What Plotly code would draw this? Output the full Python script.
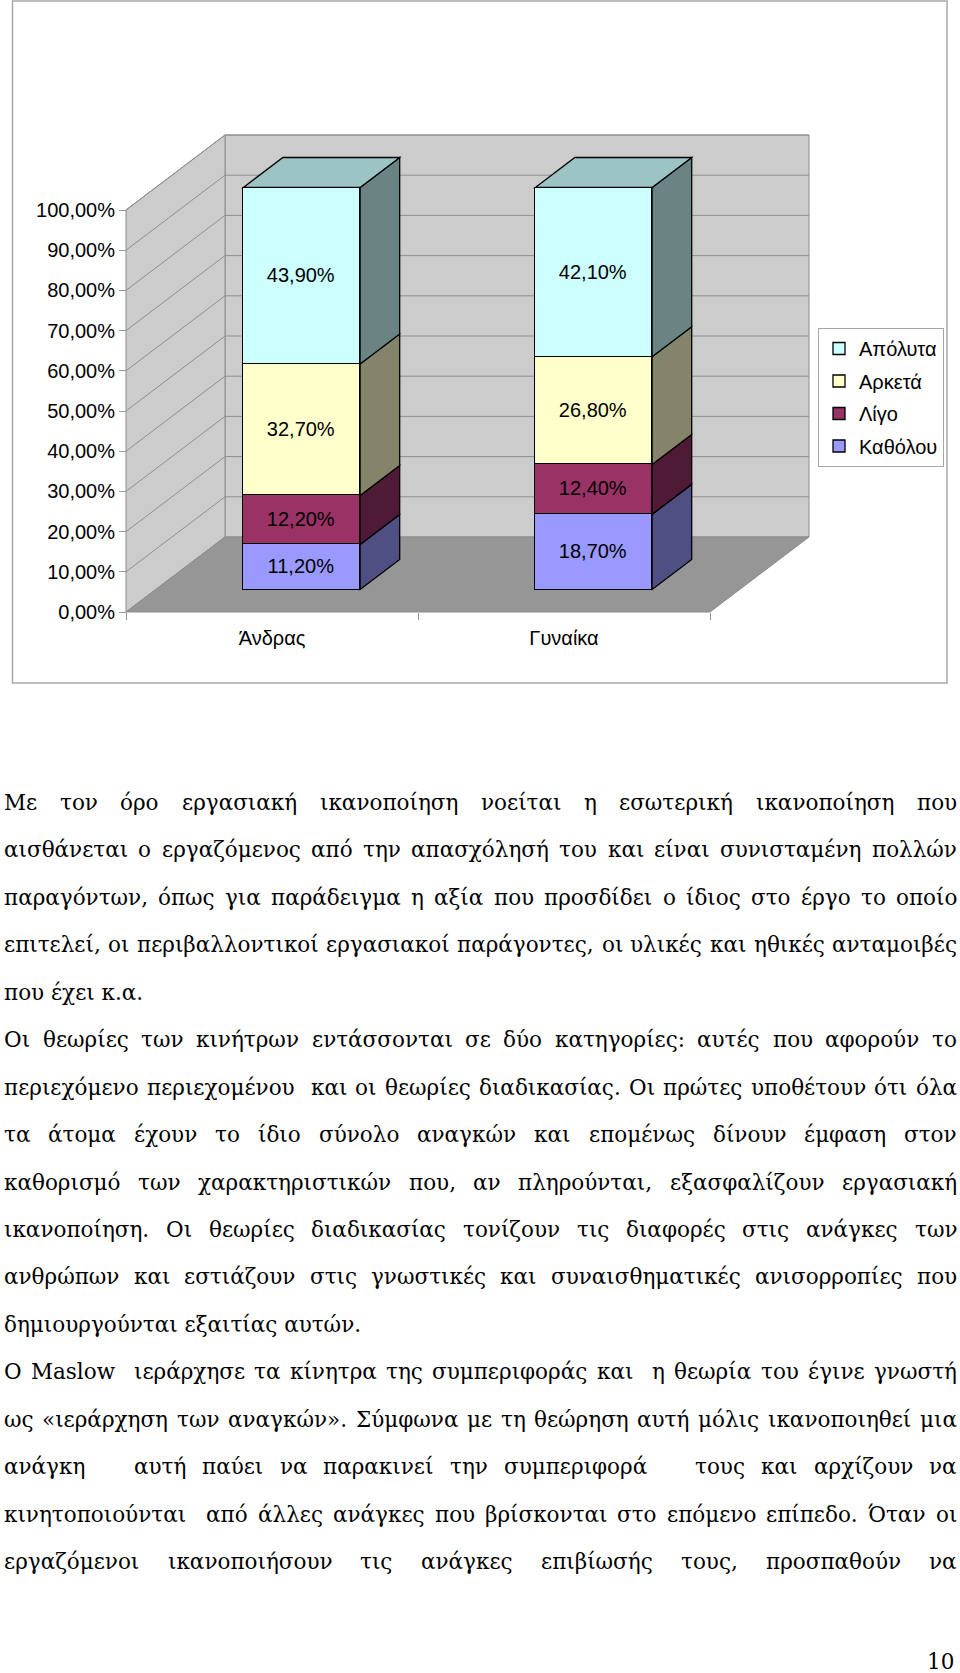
import glob
import os
import struct
import plotly.graph_objects as go

# ---------------- data ----------------
categories = ["Άνδρας", "Γυναίκα"]
series_names = ["Καθόλου", "Λίγο", "Αρκετά", "Απόλυτα"]
katholou = [11.2, 18.7]
ligo = [12.2, 12.4]
arketa = [32.7, 26.8]
apoluta = [43.9, 42.1]
y_tick_values = [0, 10, 20, 30, 40, 50, 60, 70, 80, 90, 100]
y_tick_labels = ["0,00%", "10,00%", "20,00%", "30,00%", "40,00%", "50,00%",
                 "60,00%", "70,00%", "80,00%", "90,00%", "100,00%"]

body_lines = [
    ("Με τον όρο εργασιακή ικανοποίηση νοείται η εσωτερική ικανοποίηση που", True),
    ("αισθάνεται ο εργαζόμενος από την απασχόλησή του και είναι συνισταμένη πολλών", True),
    ("παραγόντων, όπως για παράδειγμα η αξία που προσδίδει ο ίδιος στο έργο το οποίο", True),
    ("επιτελεί, οι περιβαλλοντικοί εργασιακοί παράγοντες, οι υλικές και ηθικές ανταμοιβές", True),
    ("που έχει κ.α.", False),
    ("Οι θεωρίες των κινήτρων εντάσσονται σε δύο κατηγορίες: αυτές που αφορούν το", True),
    ("περιεχόμενο περιεχομένου  και οι θεωρίες διαδικασίας. Οι πρώτες υποθέτουν ότι όλα", True),
    ("τα άτομα έχουν το ίδιο σύνολο αναγκών και επομένως δίνουν έμφαση στον", True),
    ("καθορισμό των χαρακτηριστικών που, αν πληρούνται, εξασφαλίζουν εργασιακή", True),
    ("ικανοποίηση. Οι θεωρίες διαδικασίας τονίζουν τις διαφορές στις ανάγκες των", True),
    ("ανθρώπων και εστιάζουν στις γνωστικές και συναισθηματικές ανισορροπίες που", True),
    ("δημιουργούνται εξαιτίας αυτών.", False),
    ("Ο Maslow  ιεράρχησε τα κίνητρα της συμπεριφοράς και  η θεωρία του έγινε γνωστή", True),
    ("ως «ιεράρχηση των αναγκών». Σύμφωνα με τη θεώρηση αυτή μόλις ικανοποιηθεί μια", True),
    ("ανάγκη   αυτή παύει να παρακινεί την συμπεριφορά   τους και αρχίζουν να", True),
    ("κινητοποιούνται  από άλλες ανάγκες που βρίσκονται στο επόμενο επίπεδο. Όταν οι", True),
    ("εργαζόμενοι ικανοποιήσουν τις ανάγκες επιβίωσής τους, προσπαθούν να", True),
]
page_number = "10"

# ---------------- style / layout ----------------
front_colors = ["#9999FF", "#993366", "#FFFFCC", "#CCFFFF"]
legend_ranks = [4, 3, 2, 1]
SANS = "Liberation Sans, Arial, sans-serif"
SERIF = "DejaVu Serif, Liberation Serif, serif"
SERIF_FILE = "DejaVuSerif.ttf"
W_FIG, H_FIG = 960, 1673
PLOT_BOTTOM_PX = 690
X0_PX, CAT_PX = 272.0, 292.0
Y0_PX, PCT_PX = 612.0, 4.02
DEPTH_DX_PX, DEPTH_DY_PX = 99.0, 75.0
BAR_W = 0.4
BAR_D0, BAR_D1 = 0.3, 0.7
CHART_FS = 20
BODY_FS = 21.5
BODY_LEFT, BODY_RIGHT = 3.0, 956.0
BODY_BASE0, BODY_PITCH = 809.0, 47.44


def shade(hex_color, f):
    h = hex_color.lstrip("#")
    r, g, b = (int(h[i:i + 2], 16) for i in (0, 2, 4))
    return "#%02X%02X%02X" % (int(r * f), int(g * f), int(b * f))


x_range = [(0 - X0_PX) / CAT_PX, (W_FIG - X0_PX) / CAT_PX]
y_range = [(Y0_PX - PLOT_BOTTOM_PX) / PCT_PX, Y0_PX / PCT_PX]
DX = DEPTH_DX_PX / CAT_PX
DY = DEPTH_DY_PX / PCT_PX
y_domain = [1 - PLOT_BOTTOM_PX / H_FIG, 1]


def P(x, y, d):
    return (x + d * DX, y + d * DY)


def pts_path(pts, closed=True):
    s = "M " + " L ".join("%.5f,%.5f" % p for p in pts)
    return s + " Z" if closed else s


shapes = []


def add_poly(pts, fill, line_color, lw=1.0, closed=True):
    d = dict(type="path", path=pts_path(pts, closed), xref="x", yref="y",
             line=dict(color=line_color, width=lw), layer="below")
    if closed:
        d["fillcolor"] = fill
    shapes.append(d)


xl, xr = -0.5, len(categories) - 0.5
ymax = y_tick_values[-1]
# walls and floor
add_poly([P(xl, 0, 1), P(xr, 0, 1), P(xr, ymax, 1), P(xl, ymax, 1)], "#CCCCCC", "#8C8C8C")
add_poly([P(xl, 0, 0), P(xl, 0, 1), P(xl, ymax, 1), P(xl, ymax, 0)], "#CCCCCC", "#8C8C8C")
add_poly([P(xl, 0, 0), P(xr, 0, 0), P(xr, 0, 1), P(xl, 0, 1)], "#969696", "#8C8C8C")
for v in y_tick_values[1:]:
    add_poly([P(xl, v, 1), P(xr, v, 1)], None, "#8E8E8E", 1.0, closed=False)
    add_poly([P(xl, v, 0), P(xl, v, 1)], None, "#8E8E8E", 1.0, closed=False)

# bar side and top faces (computed from the data)
series_values = [katholou, ligo, arketa, apoluta]
for i in range(len(categories)):
    base = 0.0
    xe = i + BAR_W / 2
    xs = i - BAR_W / 2
    for s, vals in enumerate(series_values):
        y0, y1 = base, base + vals[i]
        add_poly([P(xe, y0, BAR_D0), P(xe, y1, BAR_D0), P(xe, y1, BAR_D1), P(xe, y0, BAR_D1)],
                 shade(front_colors[s], 0.52), "#000000", 1.3)
        base = y1
    add_poly([P(xs, base, BAR_D0), P(xe, base, BAR_D0), P(xe, base, BAR_D1), P(xs, base, BAR_D1)],
             shade(front_colors[-1], 0.77), "#000000", 1.3)

# outer chart border
shapes.append(dict(type="rect", xref="paper", yref="paper",
                   x0=12.5 / W_FIG, x1=947 / W_FIG, y0=1 - 683 / H_FIG, y1=1 - 1 / H_FIG,
                   line=dict(color="#A8A8A8", width=1.5), fillcolor="rgba(0,0,0,0)"))

fig = go.Figure()
for s, vals in enumerate(series_values):
    fig.add_trace(go.Bar(
        x=list(range(len(categories))), y=vals, name=series_names[s],
        width=BAR_W, xaxis="x2", yaxis="y2",
        marker=dict(color=front_colors[s], line=dict(color="#000000", width=1.3)),
        texttemplate="%{y:.2f}%", textposition="inside",
        insidetextanchor="middle", textangle=0, constraintext="none",
        textfont=dict(family=SANS, size=CHART_FS, color="#000000"),
        hoverinfo="skip", legendgroup=series_names[s], legendrank=legend_ranks[s],
    ))


# ---------------- body text (justified, via font metrics) ----------------
def load_widths(fname):
    path = None
    for pat in ["/usr/share/fonts/**/" + fname, "/usr/local/share/fonts/**/" + fname,
                os.path.expanduser("~/.fonts/**/" + fname),
                os.path.expanduser("~/.local/share/fonts/**/" + fname)]:
        r = glob.glob(pat, recursive=True)
        if r:
            path = r[0]
            break
    fallback = (lambda ch: 0.32 if ch == " " else 0.6)
    if path is None:
        return fallback
    data = open(path, "rb").read()
    num = struct.unpack(">H", data[4:6])[0]
    tables = {}
    for k in range(num):
        tag, _, off, ln = struct.unpack(">4sIII", data[12 + 16 * k:28 + 16 * k])
        tables[tag.decode("latin1")] = off
    head = tables["head"]
    upem = struct.unpack(">H", data[head + 18:head + 20])[0]
    hhea = tables["hhea"]
    nhm = struct.unpack(">H", data[hhea + 34:hhea + 36])[0]
    hmtx = tables["hmtx"]
    adv = [struct.unpack(">H", data[hmtx + 4 * k:hmtx + 4 * k + 2])[0] for k in range(nhm)]
    cmap = tables["cmap"]
    n = struct.unpack(">H", data[cmap + 2:cmap + 4])[0]
    sub = None
    for k in range(n):
        pid, eid, off = struct.unpack(">HHI", data[cmap + 4 + 8 * k:cmap + 12 + 8 * k])
        fmt = struct.unpack(">H", data[cmap + off:cmap + off + 2])[0]
        if pid == 3 and eid == 1 and fmt == 4:
            sub = cmap + off
    if sub is None:
        return fallback
    segx2 = struct.unpack(">H", data[sub + 6:sub + 8])[0]
    segs = segx2 // 2
    ends = struct.unpack(">%dH" % segs, data[sub + 14:sub + 14 + segx2])
    starts = struct.unpack(">%dH" % segs, data[sub + 16 + segx2:sub + 16 + 2 * segx2])
    deltas = struct.unpack(">%dh" % segs, data[sub + 16 + 2 * segx2:sub + 16 + 3 * segx2])
    ro_off = sub + 16 + 3 * segx2
    ros = struct.unpack(">%dH" % segs, data[ro_off:ro_off + segx2])

    def glyph(c):
        for k in range(segs):
            if ends[k] >= c:
                if starts[k] > c:
                    return 0
                if ros[k] == 0:
                    return (c + deltas[k]) & 0xFFFF
                addr = ro_off + 2 * k + ros[k] + 2 * (c - starts[k])
                g = struct.unpack(">H", data[addr:addr + 2])[0]
                return (g + deltas[k]) & 0xFFFF if g else 0
        return 0

    cache = {}

    def width(ch):
        if ch not in cache:
            g = glyph(ord(ch))
            cache[ch] = adv[min(g, nhm - 1)] / upem
        return cache[ch]
    return width


wfun = load_widths(SERIF_FILE)


def text_w(s):
    return sum(wfun(c) for c in s) * BODY_FS


annotations = []
space_w = text_w(" ")
for li, (line, justified) in enumerate(body_lines):
    baseline = BODY_BASE0 + li * BODY_PITCH
    center = baseline - 0.3 * BODY_FS
    tokens = line.split(" ")
    nsp = len(tokens) - 1
    natural = sum(text_w(t) for t in tokens) + nsp * space_w
    extra = (BODY_RIGHT - BODY_LEFT - natural) / nsp if (justified and nsp) else 0.0
    if not justified:
        tokens = [line]
    x = BODY_LEFT
    for t in tokens:
        if t:
            annotations.append(dict(
                text=t, x=x / W_FIG, y=1 - center / H_FIG, xref="paper", yref="paper",
                xanchor="left", yanchor="middle", showarrow=False, borderpad=0,
                font=dict(family=SERIF, size=BODY_FS, color="#000000")))
        x += text_w(t) + space_w + extra

annotations.append(dict(
    text=page_number, x=955 / W_FIG, y=1 - (1668 - 0.3 * BODY_FS) / H_FIG,
    xref="paper", yref="paper", xanchor="right", yanchor="middle", showarrow=False,
    borderpad=0, font=dict(family=SERIF, size=BODY_FS, color="#000000")))

fig.update_layout(
    width=W_FIG, height=H_FIG,
    margin=dict(l=0, r=0, t=0, b=0, pad=0),
    paper_bgcolor="#FFFFFF", plot_bgcolor="rgba(0,0,0,0)",
    separators=",.",
    barmode="stack", bargap=0,
    font=dict(family=SANS, size=CHART_FS, color="#000000"),
    shapes=shapes, annotations=annotations,
    showlegend=True,
    legend=dict(x=818 / W_FIG, y=1 - 328 / H_FIG, xanchor="left", yanchor="top",
                bgcolor="#FFFFFF", bordercolor="#A6A6A6", borderwidth=1,
                font=dict(family=SANS, size=CHART_FS, color="#000000"),
                traceorder="grouped", tracegroupgap=3.5),
    xaxis=dict(domain=[0, 1], range=x_range, anchor="free", position=1 - Y0_PX / H_FIG,
               showgrid=False, zeroline=False, showline=False,
               tickmode="array", tickvals=list(range(len(categories))), ticktext=categories,
               ticks="", ticklabelstandoff=12,
               tickfont=dict(family=SANS, size=CHART_FS, color="#000000"),
               minor=dict(tickmode="array", tickvals=[xl + k for k in range(len(categories) + 1)],
                          ticks="outside", ticklen=7, tickcolor="#9A9A9A", showgrid=False),
               fixedrange=True),
    yaxis=dict(domain=y_domain, range=y_range, anchor="free", position=126 / W_FIG,
               showgrid=False, zeroline=False, showline=False,
               tickmode="array", tickvals=y_tick_values, ticktext=y_tick_labels,
               ticks="outside", ticklen=7, tickcolor="#9A9A9A",
               tickfont=dict(family=SANS, size=CHART_FS, color="#000000"),
               fixedrange=True),
    xaxis2=dict(overlaying="x", anchor="y2", range=[r - BAR_D0 * DX for r in x_range],
                visible=False, fixedrange=True),
    yaxis2=dict(overlaying="y", anchor="x2", range=[r - BAR_D0 * DY for r in y_range],
                visible=False, fixedrange=True),
)

fig.write_html("out.html")
